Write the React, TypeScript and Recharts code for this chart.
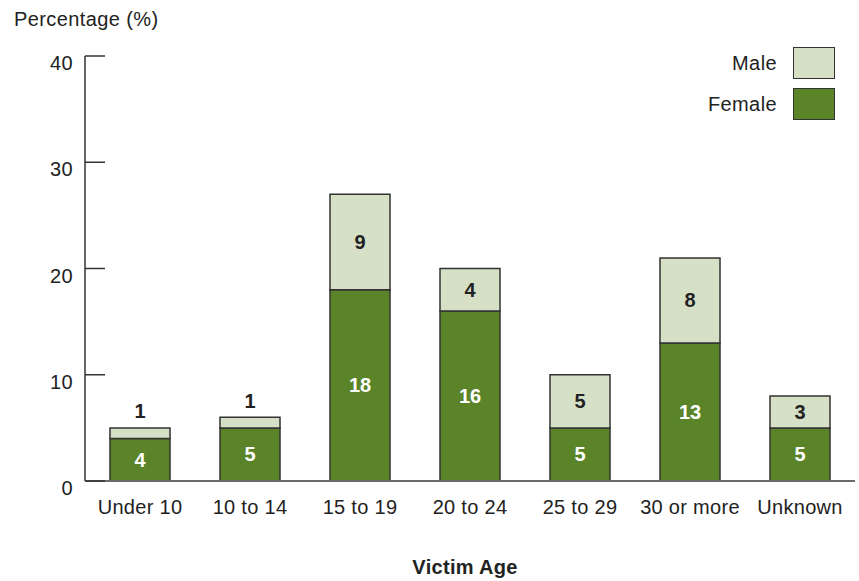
import React from 'react';
import { BarChart, Bar, XAxis, YAxis, LabelList } from 'recharts';

const categories = ['Under 10', '10 to 14', '15 to 19', '20 to 24', '25 to 29', '30 or more', 'Unknown'];
const femaleValues = [4, 5, 18, 16, 5, 13, 5];
const maleValues = [1, 1, 9, 4, 5, 8, 3];
const yTicks = [0, 10, 20, 30, 40];
const legendItems = [
  { label: 'Male', key: 'male' },
  { label: 'Female', key: 'female' },
];

const data = categories.map((c, i) => ({ name: c, female: femaleValues[i], male: maleValues[i] }));

const FONT = '"Liberation Sans", Arial, Helvetica, sans-serif';
const FEMALE = '#5b8428';
const MALE = '#d6e0c6';
const STROKE = '#333333';
const colorOf: Record<string, string> = { male: MALE, female: FEMALE };

const YTick = (props: any) => {
  const { x, y, payload } = props;
  return (
    <g>
      <line x1={x + 12} x2={x + 32} y1={y} y2={y} stroke={STROKE} strokeWidth={1.5} />
      <text x={x} y={y + 7} textAnchor="end" dominantBaseline="central" fontSize={20} fill="#222" fontFamily={FONT} letterSpacing={0.4}>
        {payload.value}
      </text>
    </g>
  );
};

const XTick = (props: any) => {
  const { x, y, payload } = props;
  return (
    <text x={x} y={y} textAnchor="middle" dominantBaseline="central" fontSize={20} fill="#222" fontFamily={FONT} letterSpacing={0.3}>
      {payload.value}
    </text>
  );
};

const makeLabel = (color: string, above: boolean) => (props: any) => {
  const { x, y, width, height, value } = props;
  const cx = x + width / 2;
  const small = above && height < 20;
  const cy = small ? y - 16.5 : y + height / 2;
  return (
    <text x={cx} y={cy} textAnchor="middle" dominantBaseline="central" fontSize={20} fontWeight="bold" fill={small ? '#222' : color} fontFamily={FONT}>
      {value}
    </text>
  );
};

export default function App() {
  return (
    <div style={{ position: 'absolute', left: 0, top: 0, width: 859, height: 581, background: '#fff' }}>
      <div style={{ position: 'absolute', left: 14, top: 8, fontFamily: FONT, fontSize: 20, color: '#222', letterSpacing: 0.4, whiteSpace: 'nowrap' }}>
        Percentage (%)
      </div>
      <BarChart width={859} height={581} data={data} margin={{ top: 56, right: 4, bottom: 60, left: 0 }} barSize={60}>
        <YAxis
          domain={[0, 40]}
          ticks={yTicks}
          width={85}
          tickSize={0}
          tickMargin={12}
          tickLine={false}
          axisLine={{ stroke: STROKE, strokeWidth: 1.5 }}
          tick={<YTick />}
          interval={0}
        />
        <XAxis
          dataKey="name"
          height={40}
          tickSize={0}
          tickMargin={26}
          tickLine={false}
          axisLine={{ stroke: '#6b6b6b', strokeWidth: 2 }}
          tick={<XTick />}
          interval={0}
        />
        <Bar dataKey="female" stackId="a" fill={FEMALE} stroke={STROKE} strokeWidth={1.5} isAnimationActive={false}>
          <LabelList dataKey="female" content={makeLabel('#ffffff', false)} />
        </Bar>
        <Bar dataKey="male" stackId="a" fill={MALE} stroke={STROKE} strokeWidth={1.5} isAnimationActive={false}>
          <LabelList dataKey="male" content={makeLabel('#222222', true)} />
        </Bar>
      </BarChart>
      <div style={{ position: 'absolute', left: 680, top: 47, width: 180, height: 80, fontFamily: FONT, fontSize: 20, color: '#222', letterSpacing: 0.4 }}>
        {legendItems.map((it, i) => (
          <div key={it.key} style={{ position: 'absolute', top: i * 41, left: 0, width: 180, height: 32 }}>
            <span style={{ position: 'absolute', right: 83, top: 4, lineHeight: '24px', whiteSpace: 'nowrap' }}>{it.label}</span>
            <span style={{ position: 'absolute', left: 113, top: 0, width: 40, height: 30, background: colorOf[it.key], border: `1.5px solid ${STROKE}` }} />
          </div>
        ))}
      </div>
      <div style={{ position: 'absolute', left: 0, width: 930, top: 556, textAlign: 'center', fontFamily: FONT, fontSize: 20, fontWeight: 'bold', color: '#222', letterSpacing: 0.3 }}>
        Victim Age
      </div>
    </div>
  );
}
